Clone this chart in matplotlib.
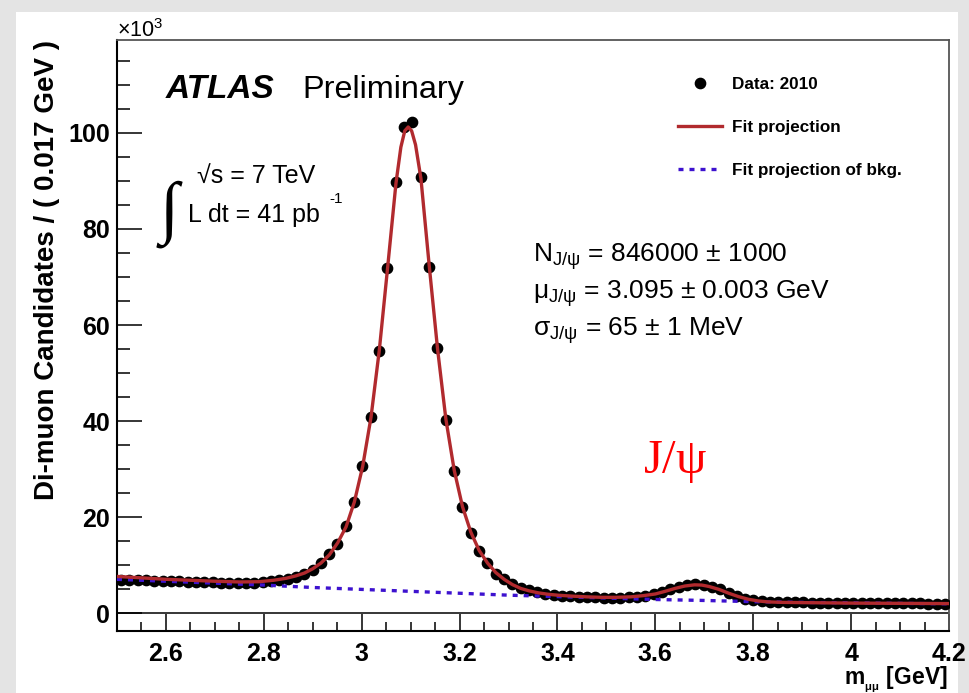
"""ATLAS Preliminary: di-muon invariant mass around the J/psi (2010 data, 41 pb^-1)."""

import numpy as np
import matplotlib.pyplot as plt
from matplotlib.patches import Rectangle
from matplotlib.ticker import FuncFormatter, MultipleLocator

plt.rcParams["font.family"] = ["Liberation Sans", "DejaVu Sans"]
plt.rcParams["mathtext.default"] = "regular"

FIG_W, FIG_H = 970, 693

BIN_WIDTH = 0.017
MASS_LO, MASS_HI = 2.5, 4.2

# data: candidates per 0.017 GeV bin, in units of 10^3 (100 bins, 2.5 - 4.2 GeV)
data_counts = [
    7.0, 7.0, 6.9, 6.9, 6.8, 6.8, 6.7, 6.7, 6.6, 6.6, 6.5,
    6.5, 6.4, 6.4, 6.3, 6.4, 6.4, 6.5, 6.7, 6.9, 7.2, 7.6,
    8.2, 9.0, 10.4, 12.3, 14.4, 18.1, 23.1, 30.6, 40.8, 54.6, 71.9,
    89.8, 101.3, 102.3, 90.8, 72.1, 55.2, 40.2, 29.6, 22.1, 16.7, 12.9, 10.4,
    8.3, 7.1, 6.1, 5.3, 4.8, 4.4, 4.1, 3.9, 3.7, 3.6,
    3.5, 3.4, 3.4, 3.3, 3.3, 3.3, 3.4, 3.5, 3.7, 4.0,
    4.5, 5.0, 5.5, 5.9, 6.1, 6.0, 5.6, 5.0, 4.3, 3.6,
    3.0, 2.7, 2.5, 2.4, 2.35,
    2.3, 2.3, 2.3, 2.25, 2.25, 2.2, 2.2, 2.2, 2.2, 2.15,
    2.15, 2.15, 2.1, 2.1, 2.1, 2.1, 2.1, 2.05, 2.05, 2.05,
]

# fit projection (signal + background)
fit_mass = [
    2.500, 2.550, 2.600, 2.650, 2.700, 2.750, 2.790, 2.820, 2.845, 2.865,
    2.883, 2.900, 2.917, 2.934, 2.951, 2.968, 2.985, 3.002, 3.019, 3.036,
    3.053, 3.070, 3.080, 3.088, 3.095, 3.102, 3.110, 3.121, 3.138, 3.155,
    3.172, 3.189, 3.206, 3.223, 3.240, 3.257, 3.274, 3.291, 3.308, 3.325,
    3.342, 3.360, 3.380, 3.400, 3.430, 3.460, 3.490, 3.520, 3.550, 3.575,
    3.600, 3.620, 3.640, 3.660, 3.680, 3.695, 3.710, 3.730, 3.750, 3.770,
    3.790, 3.810, 3.830, 3.860, 3.900, 3.950, 4.000, 4.100, 4.200,
]
fit_counts = [
    7.7, 7.4, 7.1, 6.9, 6.7, 6.55, 6.6, 6.9, 7.3, 7.8,
    8.4, 9.3, 10.5, 12.2, 14.7, 18.0, 23.2, 30.6, 40.8, 54.8,
    72.0, 89.5, 97.0, 100.4, 101.2, 100.4, 97.5, 90.5, 72.3, 55.0,
    40.4, 29.8, 22.2, 16.9, 13.1, 10.5, 8.5, 7.1, 6.0, 5.2,
    4.7, 4.3, 4.0, 3.8, 3.6, 3.45, 3.35, 3.35, 3.45, 3.7,
    4.05, 4.6, 5.2, 5.7, 5.95, 5.9, 5.6, 5.0, 4.2, 3.5,
    2.95, 2.6, 2.4, 2.3, 2.25, 2.2, 2.15, 2.1, 2.05,
]

# fit projection of the background only
bkg_mass = [2.5, 2.6, 2.7, 2.8, 2.9, 3.0, 3.1, 3.2, 3.3, 3.4,
            3.5, 3.6, 3.7, 3.8, 3.9, 4.0, 4.1, 4.2]
bkg_counts = [7.1, 6.7, 6.3, 5.9, 5.4, 5.0, 4.6, 4.2, 3.8, 3.5,
              3.2, 2.9, 2.7, 2.45, 2.3, 2.2, 2.1, 2.0]

fit_results = [
    r"N$_{J/\psi}$ = 846000 $\pm$ 1000",
    r"$\mu_{J/\psi}$ = 3.095 $\pm$ 0.003 GeV",
    r"$\sigma_{J/\psi}$ = 65 $\pm$ 1 MeV",
]

FIT_COLOR = "#b12a2e"
BKG_COLOR = "#3d12cf"


def fx(px: float) -> float:
    return px / FIG_W


def fy(py: float) -> float:
    return 1.0 - py / FIG_H


bin_centres = MASS_LO + BIN_WIDTH * (np.arange(len(data_counts)) + 0.5)

fig = plt.figure(figsize=(FIG_W / 100, FIG_H / 100), dpi=100, facecolor="#e4e4e4")
fig.patches.append(
    Rectangle((fx(16), fy(693)), fx(958) - fx(16), fy(12) - fy(693),
              transform=fig.transFigure, facecolor="white", edgecolor="none", zorder=-10)
)

ax = fig.add_axes([fx(117), fy(630.5), fx(949) - fx(117), fy(40) - fy(630.5)])
ax.set_xlim(MASS_LO, MASS_HI)
ax.set_ylim(-3.55, 119.3)

ax.plot(bin_centres, data_counts, "o", color="black", markersize=7.4, zorder=3,
        label="Data: 2010")
ax.plot(bkg_mass, bkg_counts, color=BKG_COLOR, linewidth=2.4, linestyle=(0, (1.5, 1.8)),
        dash_capstyle="butt", zorder=4, label="Fit projection of bkg.")
ax.plot(fit_mass, fit_counts, color=FIT_COLOR, linewidth=2.4, zorder=5,
        label="Fit projection")
ax.axhline(0, color="black", linewidth=1.1, zorder=2)

# axes frame and ticks
for side in ("left", "bottom"):
    ax.spines[side].set_linewidth(1.5)
for side in ("top", "right"):
    ax.spines[side].set_linewidth(1.3)
    ax.spines[side].set_color("#555555")

ax.xaxis.set_major_locator(MultipleLocator(0.2))
ax.xaxis.set_minor_locator(MultipleLocator(0.05))
ax.yaxis.set_major_locator(MultipleLocator(20))
ax.yaxis.set_minor_locator(MultipleLocator(5))
ax.xaxis.set_major_formatter(FuncFormatter(lambda v, _: f"{v:g}"))
ax.tick_params(axis="x", which="major", direction="in", length=12.2, width=1.1,
               pad=8, labelsize=18, top=False)
ax.tick_params(axis="x", which="minor", direction="in", length=6.3, width=1.1, top=False)
ax.tick_params(axis="y", which="major", direction="in", length=18, width=1.1,
               pad=5, labelsize=18, right=False)
ax.tick_params(axis="y", which="minor", direction="in", length=9, width=1.1, right=False)
for lab in ax.get_xticklabels() + ax.get_yticklabels():
    lab.set_fontweight("bold")

# axis titles
fig.text(fx(47), fy(40), "Di-muon Candidates / ( 0.017 GeV )", rotation=90,
         ha="center", va="top", fontsize=20, fontweight="bold")
fig.text(fx(948), fy(684), r"m$_{_{\mu\mu}}$ [GeV]", ha="right", va="baseline",
         fontsize=16.5, fontweight="bold")
fig.text(fx(117), fy(37), r"$\times$10$^{3}$", ha="left", va="baseline", fontsize=15.5)

# ATLAS label and run conditions
fig.text(fx(166), fy(98), "ATLAS", ha="left", va="baseline", fontsize=24,
         fontweight="bold", fontstyle="italic")
fig.text(fx(302), fy(98), "Preliminary", ha="left", va="baseline", fontsize=23.3)
fig.text(fx(197), fy(183), "\u221as = 7 TeV", ha="left", va="baseline", fontsize=18)
fig.text(fx(188), fy(222), "L dt = 41 pb", ha="left", va="baseline", fontsize=18)
fig.text(fx(329), fy(203), "-1", ha="left", va="baseline", fontsize=11)
fig.text(fx(169), fy(214), "\u222b", ha="center", va="center", fontsize=50,
         family=["Liberation Serif", "DejaVu Sans"])

# fit results
for i, line in enumerate(fit_results):
    fig.text(fx(533), fy(262 + 37 * i), line, ha="left", va="baseline", fontsize=19)

fig.text(fx(675), fy(462), r"J/$\psi$", ha="center", va="center", fontsize=35,
         color="red", family=["Liberation Serif", "DejaVu Serif"])

leg = ax.legend(
    handles=[ax.lines[0], ax.lines[2], ax.lines[1]],
    loc="upper left",
    bbox_to_anchor=((678 - 117) / 832, 1 - (77 - 40) / 590.5),
    frameon=False,
    prop={"weight": "bold", "size": 12.3},
    handlelength=2.6,
    handletextpad=0.55,
    labelspacing=1.65,
    borderpad=0,
    borderaxespad=0,
)

fig.savefig("out.png", dpi=100, facecolor=fig.get_facecolor())
